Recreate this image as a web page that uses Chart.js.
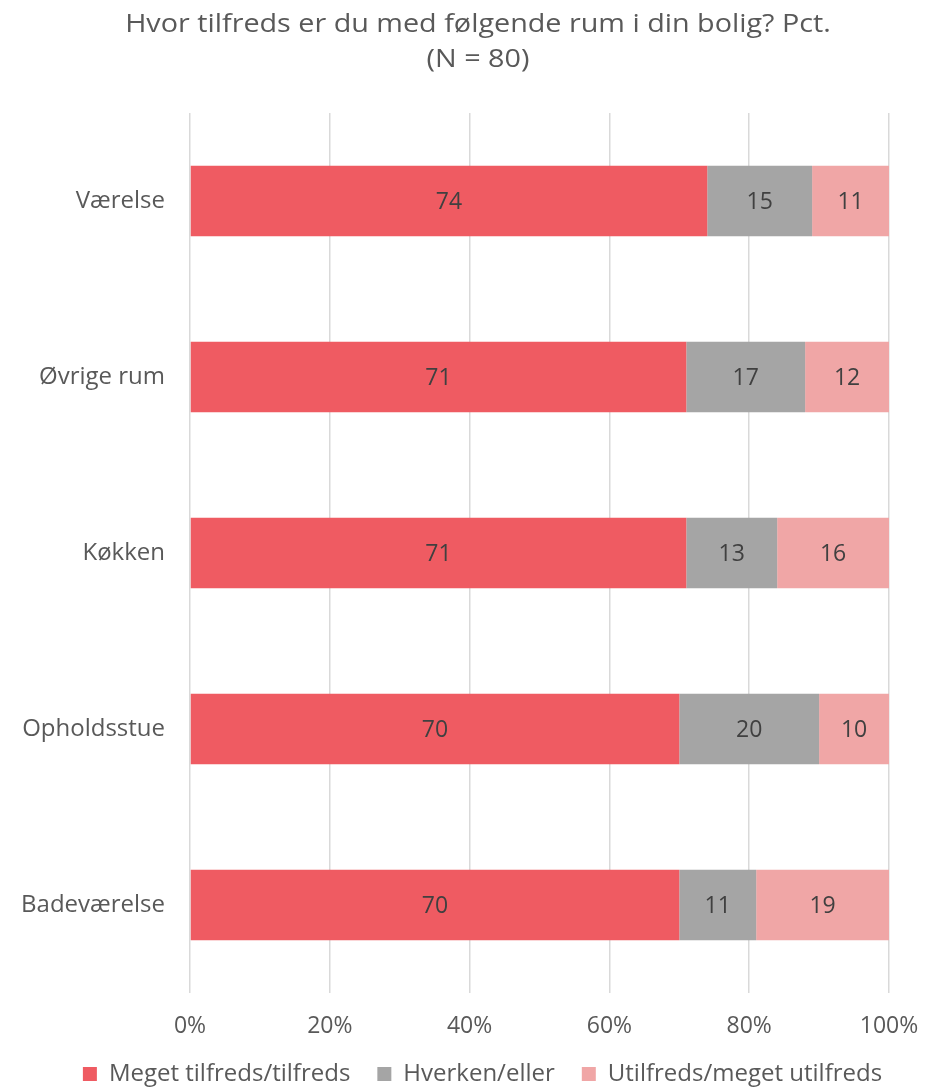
<!DOCTYPE html>
<html>
<head>
<meta charset="utf-8">
<script src="https://cdn.jsdelivr.net/npm/chart.js@4"></script>
<style>
  html, body { margin: 0; padding: 0; background: #fff; }
  #wrap { width: 937px; height: 1088px; }
</style>
</head>
<body>
<div id="wrap"><canvas id="chart"></canvas></div>
<script>
// Data
const rooms = ['Værelse', 'Øvrige rum', 'Køkken', 'Opholdsstue', 'Badeværelse'];
const satisfied = [74, 71, 71, 70, 70];
const neutral = [15, 17, 13, 20, 11];
const dissatisfied = [11, 12, 16, 10, 19];
const seriesNames = ['Meget tilfreds/tilfreds', 'Hverken/eller', 'Utilfreds/meget utilfreds'];
const titleLines = ['Hvor tilfreds er du med følgende rum i din bolig? Pct.', '(N = 80)'];
const xTicks = [0, 20, 40, 60, 80, 100];

Chart.defaults.font.family = "'Open Sans', sans-serif";
Chart.defaults.color = '#595959';

// Title drawn by hand: the reference glyphs are a little wider than plain Open Sans
const titleText = {
    id: 'titleText',
    afterDraw(chart) {
        const ctx = chart.ctx;
        ctx.fillStyle = '#595959';
        ctx.textAlign = 'center';
        ctx.textBaseline = 'alphabetic';
        [[titleLines[0], 32], [titleLines[1], 67]].forEach(([txt, y]) => {
            ctx.save();
            ctx.font = "25px 'Open Sans', sans-serif";
            ctx.translate(478, y);
            ctx.scale(1.15, 1);
            ctx.fillText(txt, 0, 0);
            ctx.restore();
        });
    }
};

// Legend in the reference sits a bit right of the canvas centre
const legendShift = {
    id: 'legendShift',
    afterLayout(chart) {
        if (!chart.legend) return;
        chart.legend.left += 38;
        chart.legend.right += 38;
    }
};

// Value labels centred in each bar segment
const segmentLabels = {
    id: 'segmentLabels',
    afterDatasetsDraw(chart) {
        const ctx = chart.ctx;
        ctx.save();
        ctx.font = "23px 'Open Sans', sans-serif";
        ctx.fillStyle = '#404040';
        ctx.textAlign = 'center';
        ctx.textBaseline = 'middle';
        chart.data.datasets.forEach((ds, i) => {
            chart.getDatasetMeta(i).data.forEach((bar, j) => {
                const p = bar.getProps(['x', 'y', 'base'], true);
                ctx.fillText(ds.data[j], (p.x + p.base) / 2, p.y + 1);
            });
        });
        ctx.restore();
    }
};

new Chart(document.getElementById('chart'), {
    type: 'bar',
    data: {
        labels: rooms,
        datasets: [
            { label: seriesNames[0], data: satisfied, backgroundColor: '#EF5B62' },
            { label: seriesNames[1], data: neutral, backgroundColor: '#A5A5A5' },
            { label: seriesNames[2], data: dissatisfied, backgroundColor: '#F0A6A6' }
        ]
    },
    options: {
        indexAxis: 'y',
        responsive: true,
        maintainAspectRatio: false,
        animation: false,
        datasets: {
            bar: { categoryPercentage: 1, barPercentage: 0.4, borderWidth: 0 }
        },
        layout: { padding: { left: 0, right: 48, top: 113, bottom: -8 } },
        plugins: {
            title: { display: false },
            legend: {
                position: 'bottom',
                labels: {
                    boxWidth: 14,
                    boxHeight: 14,
                    padding: 27,
                    font: { size: 24 },
                    color: '#595959'
                }
            },
            tooltip: { enabled: false }
        },
        scales: {
            x: {
                stacked: true,
                min: 0,
                max: 100,
                afterBuildTicks: (scale) => { scale.ticks = xTicks.map(v => ({ value: v })); },
                afterFit: (scale) => {
                    scale.height = 42;
                    scale.paddingLeft = 0;
                    scale.paddingRight = 0;
                },
                ticks: { callback: (v) => v + '%', font: { size: 23 }, color: '#595959', padding: 20 },
                grid: { color: '#D9D9D9', lineWidth: 1.5, drawTicks: false },
                border: { display: false }
            },
            y: {
                stacked: true,
                afterFit: (scale) => { scale.width = 190; },
                ticks: { font: { size: 24 }, color: '#595959', padding: 25 },
                grid: { display: false, drawTicks: false },
                border: { display: false }
            }
        }
    },
    plugins: [segmentLabels, titleText, legendShift]
});
</script>
</body>
</html>
